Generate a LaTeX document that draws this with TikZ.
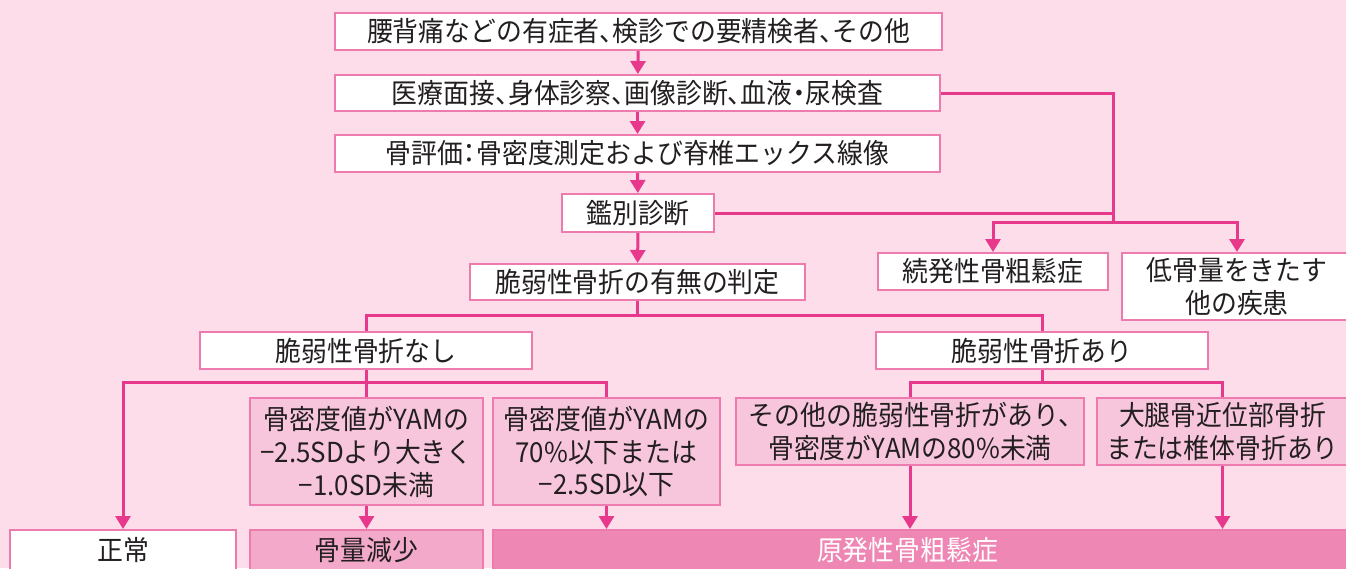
\documentclass[tikz,border=0pt]{standalone}
\usepackage{fontspec}
\setmainfont{Noto Sans CJK JP}[FakeStretch=0.94,RawFeature=+halt]
\usetikzlibrary{arrows.meta}
\definecolor{bg}{HTML}{FCDDE9}
\definecolor{bd}{HTML}{EE7BAE}
\definecolor{ln}{HTML}{E8388C}
\definecolor{fa}{HTML}{F8C6DC}
\definecolor{fb}{HTML}{F3A9CA}
\definecolor{fc}{HTML}{EF87B4}
\definecolor{tx}{HTML}{231F20}
\begin{document}
\begin{tikzpicture}[x=1pt,y=-1pt,
  box/.style={draw=bd, line width=2pt, fill=white, inner sep=0pt, text=tx,
    font=\fontsize{27.5}{33}\selectfont, align=center},
  pbox/.style={box, fill=fa},
  conn/.style={draw=ln, line width=3pt},
  arr/.style={conn, -{Triangle[width=15pt,length=13pt]}}]
\fill[bg] (0,0) rectangle (1346,568);
\useasboundingbox (0,0) rectangle (1346,568);
% top chain
\node[box, minimum width=607, minimum height=37] (b1) at (638.5,31.5) {腰背痛などの有症者、検診での要精検者、その他};
\node[box, minimum width=605, minimum height=36] (b2) at (637.5,93) {医療面接、身体診察、画像診断、血液・尿検査};
\node[box, minimum width=605, minimum height=37] (b3) at (637.5,153.5) {骨評価：骨密度測定および脊椎エックス線像};
\node[box, minimum width=152, minimum height=38] (b4) at (638,213) {鑑別診断};
\node[box, minimum width=335, minimum height=36] (b5) at (637.5,282) {脆弱性骨折の有無の判定};
\node[box, minimum width=230, minimum height=37] (s1) at (993,271.5) {続発性骨粗鬆症};
\node[box, minimum width=230, minimum height=67] (s2) at (1237,286.5) {低骨量をきたす\\他の疾患};
% branches
\node[box, minimum width=332, minimum height=37] (nashi) at (366,350.5) {脆弱性骨折なし};
\node[box, minimum width=332, minimum height=37] (ari) at (1042,350.5) {脆弱性骨折あり};
\node[pbox, minimum width=233, minimum height=107] (bA) at (366.5,451.5) {骨密度値がYAMの\\−2.5SDより大きく\\−1.0SD未満};
\node[pbox, minimum width=227, minimum height=107] (bB) at (606.5,451.5) {骨密度値がYAMの\\70\%以下または\\−2.5SD以下};
\node[pbox, minimum width=348, minimum height=67] (bC) at (910,431.5) {その他の脆弱性骨折があり、\\骨密度がYAMの80\%未満};
\node[pbox, minimum width=251, minimum height=67] (bD) at (1222.5,431.5) {大腿骨近位部骨折\\または椎体骨折あり};
% bottom
\node[box, minimum width=226, minimum height=40] (seijo) at (123,550) {正常};
\node[box, fill=fb, minimum width=233, minimum height=40] (genryo) at (366.5,550) {骨量減少};
\node[box, fill=fc, text=white, minimum width=857, minimum height=40] (genpatsu) at (921.5,550) {原発性骨粗鬆症\hspace*{28pt}};
% connectors
\draw[arr] (b1) -- (b2);
\draw[arr] (b2) -- (b3);
\draw[arr] (b3) -- (b4);
\draw[arr] (b4) -- (b5);
\coordinate (r1) at (1113,222);
\draw[conn] (b2.east) -| (r1);
\draw[conn] (b4.east) -- (b4.east -| r1);
\draw[arr] (r1) -| (s1.north);
\draw[arr] (r1) -| (s2.north);
\coordinate (m1) at (637.5,315);
\draw[conn] (b5.south) -- (m1);
\draw[conn] (m1) -| (nashi.north);
\draw[conn] (m1) -| (ari.north);
\coordinate (n1) at (366,382);
\draw[conn] (nashi.south) -- (n1);
\draw[arr] (n1) -| (seijo.north);
\draw[conn] (n1) -- (n1 |- bA.north);
\draw[conn] (n1) -| (bB.north);
\coordinate (a1) at (1042,382);
\draw[conn] (ari.south) -- (a1);
\draw[conn] (a1) -| (bC.north);
\draw[conn] (a1) -| (bD.north);
\draw[arr] (bA.south) -- (genryo.north);
\draw[arr] (bB.south) -- (bB.south |- genpatsu.north);
\draw[arr] (bC.south) -- (bC.south |- genpatsu.north);
\draw[arr] (bD.south) -- (bD.south |- genpatsu.north);
\end{tikzpicture}
\end{document}
